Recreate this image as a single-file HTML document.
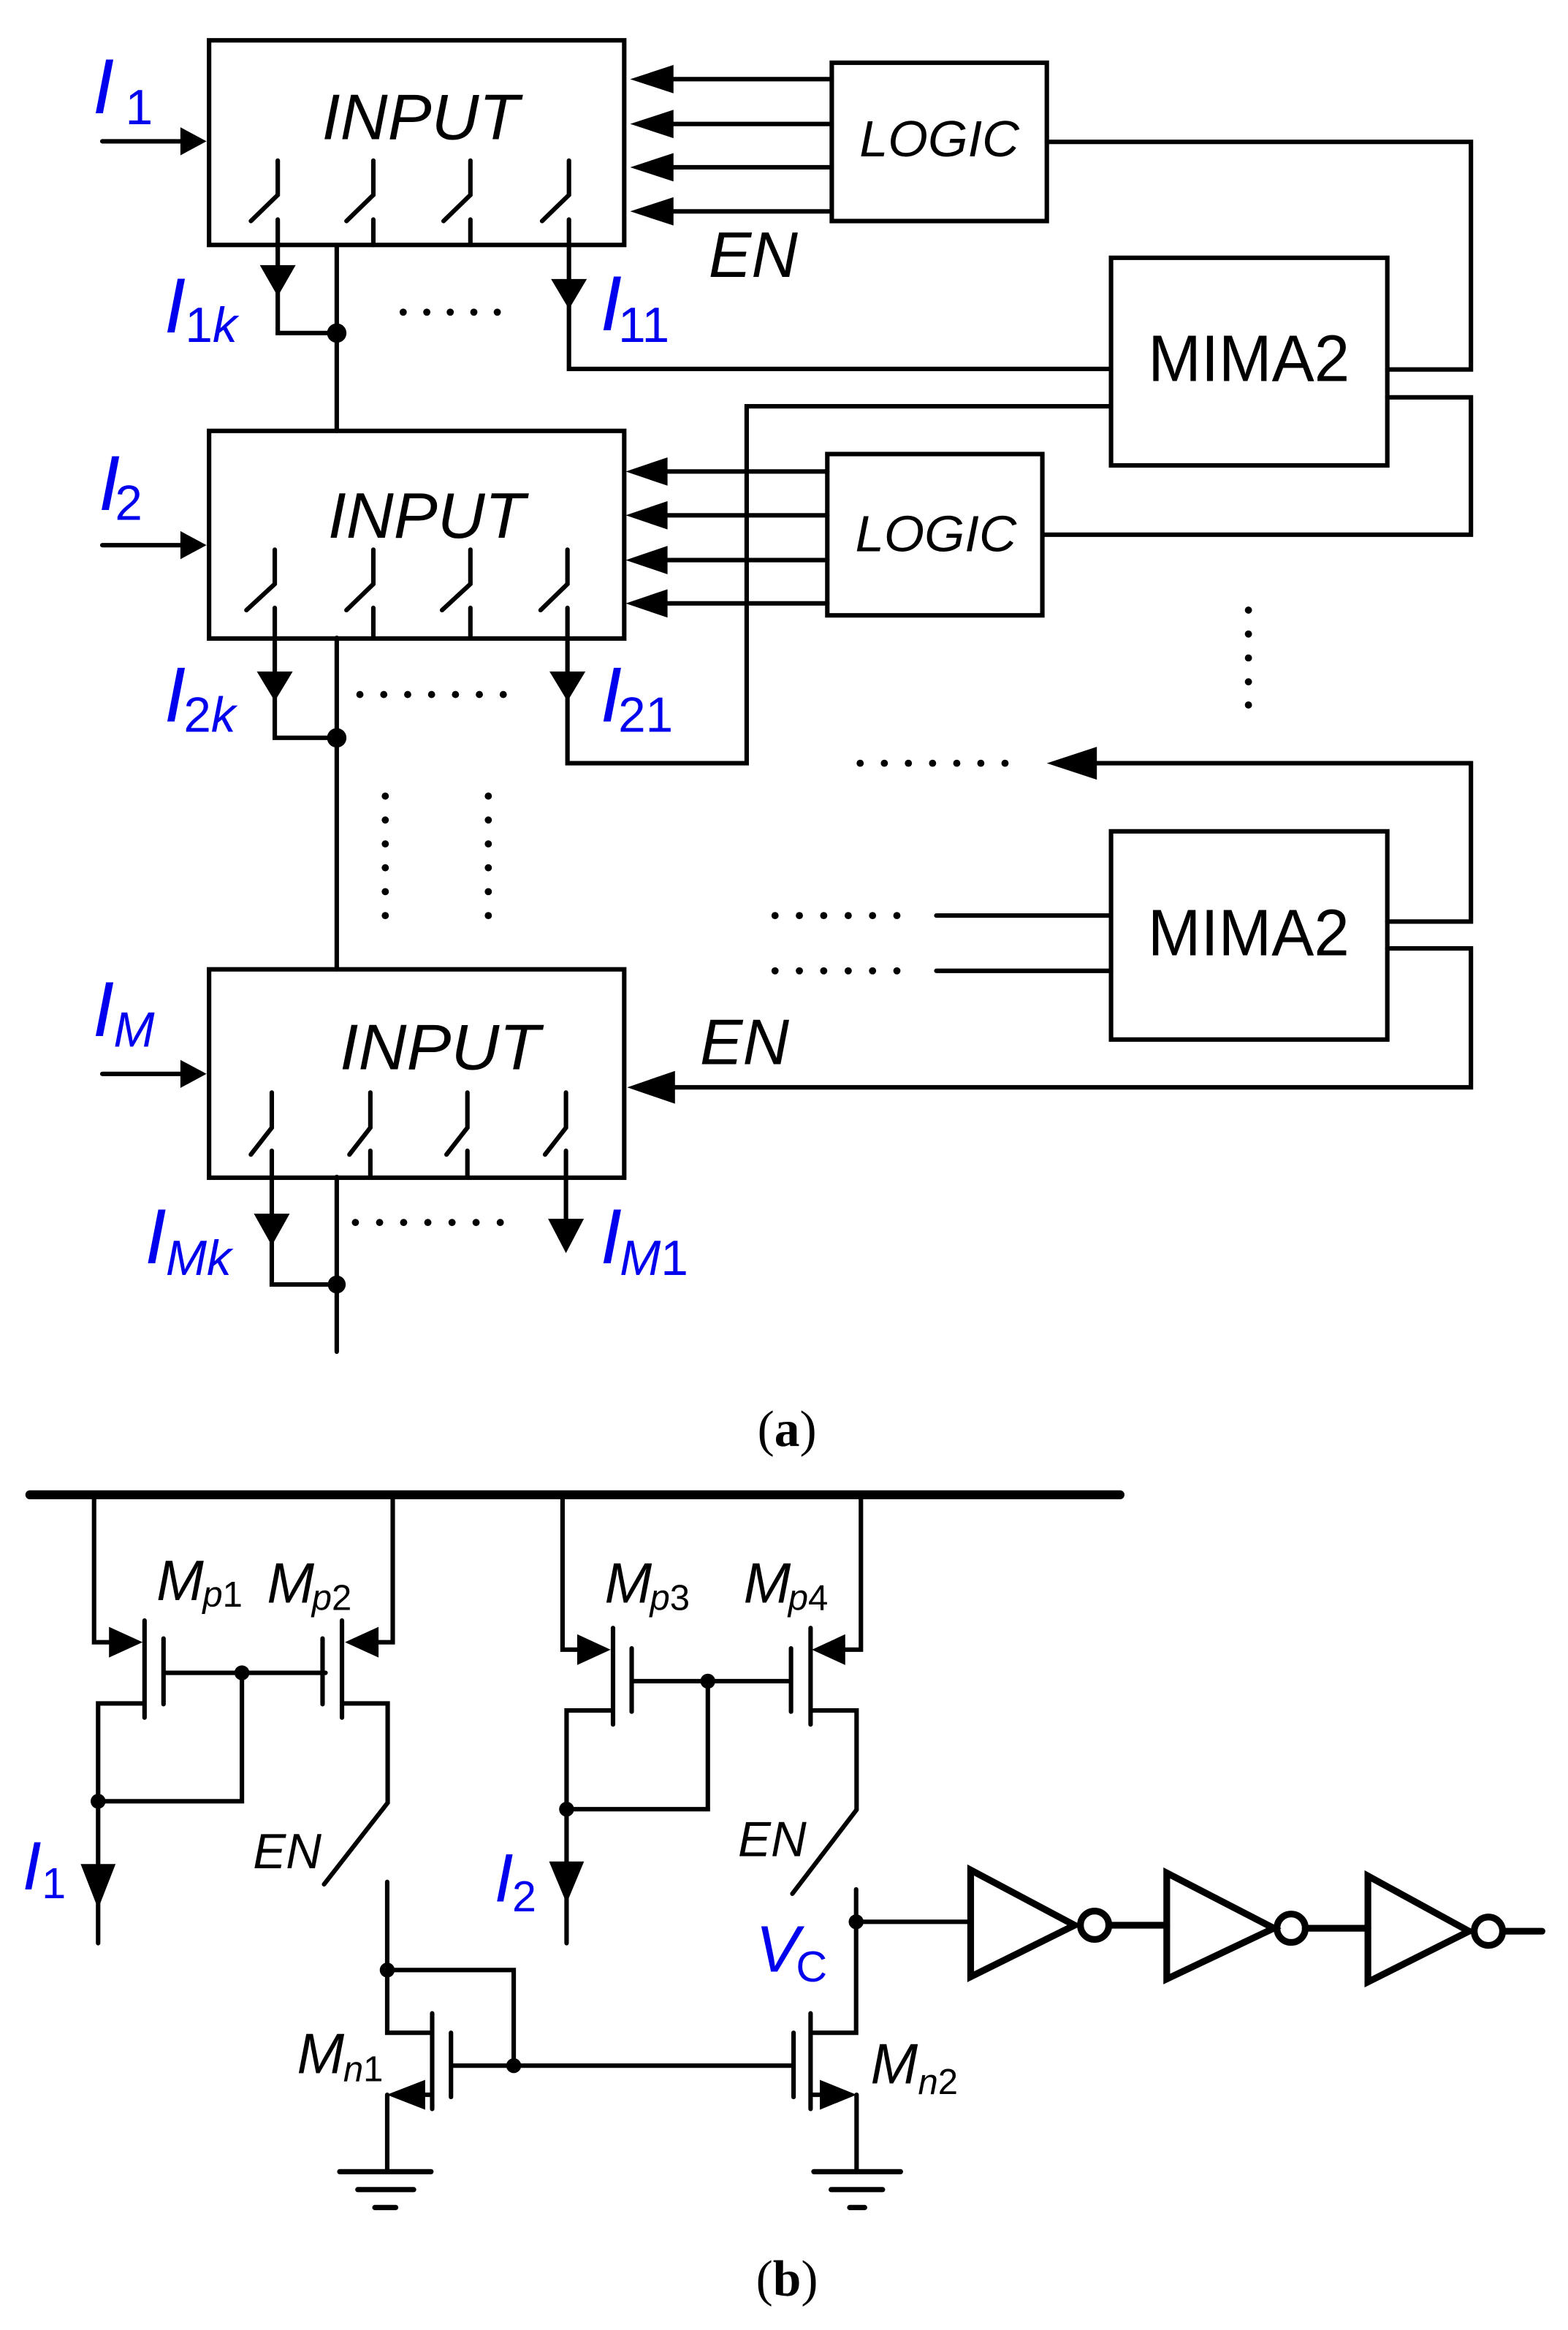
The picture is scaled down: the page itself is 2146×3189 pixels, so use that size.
<!DOCTYPE html>
<html><head><meta charset="utf-8"><style>html,body{margin:0;padding:0;background:#fff}svg{display:block}</style></head>
<body>
<svg width="2146" height="3189" viewBox="0 0 1050 1560" preserveAspectRatio="none" xmlns="http://www.w3.org/2000/svg">
<g fill="none" stroke="#000" stroke-width="3" stroke-linecap="round" stroke-linejoin="miter">
<rect x="140" y="27" width="278" height="137"/>
<rect x="140" y="288.5" width="278" height="139"/>
<rect x="140" y="649" width="278" height="139.5"/>
<path d="M186,107.5V130.5L168,148 M186,147V164 M250,107.5V130.5L232,148 M250,147V164 M315,107.5V130.5L297,148 M315,147V164 M381,107.5V130.5L363,148 M381,147V164"/>
<path d="M184,368V391L165,408.5 M184,407V427 M250,368V391L232,408.5 M250,407V427 M315,368V391L296,408.5 M315,407V427 M380,368V391L362,408.5 M380,407V427"/>
<path d="M182,731.5V755L168,773 M182,770.5V788 M248,731.5V755L234,773 M248,770.5V788 M313,731.5V755L299,773 M313,770.5V788 M379,731.5V755L365,773 M379,770.5V788"/>
<path d="M186,164V223H225.5 M225.5,164V288.5 M381,164V247H744"/>
<path d="M184,427V494H225.5 M225.5,427V649 M380,427V511H500V272H744"/>
<path d="M182,788V860H225.5 M225.5,788V905 M379,788V816"/>
<path d="M68.5,94.6H125 M68.5,365H125 M68.5,719H125"/>
<rect x="557" y="42" width="144" height="106"/>
<path d="M445,53H557 M445,83H557 M445,112H557 M445,141.5H557"/>
<rect x="554" y="304" width="144" height="108"/>
<path d="M442,315.7H554 M442,345H554 M442,375H554 M442,404H554"/>
<rect x="744" y="172.6" width="185" height="139"/>
<rect x="744" y="556.6" width="185" height="139.4"/>
<path d="M701,95H985V247.4H929 M929,266H985V358H698"/>
<path d="M727,511H985V617H929 M929,635H985V728H445"/>
<path d="M627,613H744 M627,650H744"/>
<path d="M20,1000.8H750" stroke-width="6"/>
<path d="M63,1000.8V1099.5H80 M96.8,1085V1150 M109.5,1097V1141 M109.5,1120H218 M96.8,1140.5H65.7V1260 M65.7,1206H162V1120"/>
<path d="M263,1000.8V1099.5H250 M229,1085V1150 M216,1097V1141 M229,1140.5H259.6V1207L217,1261.6"/>
<path d="M376.7,1000.8V1104.5H395 M410.5,1090V1154.6 M423,1103.6V1146 M423,1125.6H529.7 M410.5,1145.2H379.4V1260 M379.4,1211.3H474V1125.6"/>
<path d="M576.5,1000.8V1104.5H560 M542.8,1090V1154.6 M529.7,1103.6V1146 M542.8,1145.2H573.6V1211.7L530.6,1267.9"/>
<path d="M65.7,1270V1301 M379.4,1270V1301"/>
<path d="M259.3,1260V1361H289.4 M289.4,1348V1412 M302,1361V1404 M302,1383H531.4 M259.3,1319H344V1383 M284.7,1402.5H289.4 M259.3,1402.5V1454"/>
<path d="M227.5,1454H288.6 M239.6,1466H277 M251,1478H265" stroke-width="3.5"/>
<path d="M573.3,1265V1361H542.8 M542.8,1348V1412 M531.4,1361V1404 M549,1402.5H542.8 M573.6,1402.5V1454 M573.3,1286.7H650"/>
<path d="M545,1454H603 M556.6,1466H591 M569,1478H579" stroke-width="3.5"/>
<g stroke-width="4.5" stroke-linejoin="miter">
<path d="M650,1252V1323.5L719.6,1289Z"/>
<circle cx="733" cy="1289" r="9.5"/>
<path d="M742.5,1289H781.3"/>
<path d="M781.3,1254V1325L853,1291Z"/>
<circle cx="864.6" cy="1291" r="9.5"/>
<path d="M874,1291H916"/>
<path d="M916,1256V1327L983.7,1293Z"/>
<circle cx="996.7" cy="1293" r="9.5"/>
<path d="M1006.2,1293H1032.6"/>
</g>
</g>
<g fill="#000" stroke="none">
<polygon points="120.8,85.2 138.3,94.6 120.8,104"/>
<polygon points="120.8,355.6 138.3,365 120.8,374.4"/>
<polygon points="120.8,709.6 138.3,719 120.8,728.4"/>
<polygon points="174,177.5 198,177.5 186,198.4"/>
<polygon points="369,186.8 393,186.8 381,207"/>
<polygon points="172,449.6 196,449.6 184,469.5"/>
<polygon points="368,449.6 392,449.6 380,469.5"/>
<polygon points="170,812.6 194,812.6 182,834"/>
<polygon points="367,816 391,816 379,839"/>
<polygon points="422,53 451,43.5 451,62.5"/>
<polygon points="422,83 451,73.5 451,92.5"/>
<polygon points="422,112 451,102.5 451,121.5"/>
<polygon points="422,141.5 451,132 451,151"/>
<polygon points="419,315.7 447,306.2 447,325.2"/>
<polygon points="419,345 447,335.5 447,354.5"/>
<polygon points="419,375 447,365.5 447,384.5"/>
<polygon points="419,404 447,394.5 447,413.5"/>
<polygon points="420,728 452,717 452,739"/>
<polygon points="701,511 734.5,500 734.5,522"/>
<circle cx="225.5" cy="223" r="6.5"/>
<circle cx="225.5" cy="494" r="6.5"/>
<circle cx="225.5" cy="860" r="6"/>
<g>
<circle cx="270" cy="209" r="2.4"/><circle cx="285.8" cy="209" r="2.4"/><circle cx="301.5" cy="209" r="2.4"/><circle cx="317.3" cy="209" r="2.4"/><circle cx="333" cy="209" r="2.4"/>
<circle cx="241" cy="465" r="2.4"/><circle cx="257" cy="465" r="2.4"/><circle cx="273" cy="465" r="2.4"/><circle cx="289" cy="465" r="2.4"/><circle cx="305" cy="465" r="2.4"/><circle cx="321" cy="465" r="2.4"/><circle cx="337" cy="465" r="2.4"/>
<circle cx="238" cy="818.5" r="2.4"/><circle cx="254.2" cy="818.5" r="2.4"/><circle cx="270.3" cy="818.5" r="2.4"/><circle cx="286.5" cy="818.5" r="2.4"/><circle cx="302.7" cy="818.5" r="2.4"/><circle cx="318.8" cy="818.5" r="2.4"/><circle cx="335" cy="818.5" r="2.4"/>
<circle cx="576" cy="511" r="2.4"/><circle cx="592.2" cy="511" r="2.4"/><circle cx="608.3" cy="511" r="2.4"/><circle cx="624.5" cy="511" r="2.4"/><circle cx="640.7" cy="511" r="2.4"/><circle cx="656.8" cy="511" r="2.4"/><circle cx="673" cy="511" r="2.4"/>
<circle cx="519" cy="613" r="2.4"/><circle cx="535.3" cy="613" r="2.4"/><circle cx="551.6" cy="613" r="2.4"/><circle cx="568" cy="613" r="2.4"/><circle cx="584.3" cy="613" r="2.4"/><circle cx="600.6" cy="613" r="2.4"/>
<circle cx="519" cy="650" r="2.4"/><circle cx="535.3" cy="650" r="2.4"/><circle cx="551.6" cy="650" r="2.4"/><circle cx="568" cy="650" r="2.4"/><circle cx="584.3" cy="650" r="2.4"/><circle cx="600.6" cy="650" r="2.4"/>
<circle cx="258" cy="533" r="2.4"/><circle cx="258" cy="549" r="2.4"/><circle cx="258" cy="565" r="2.4"/><circle cx="258" cy="581" r="2.4"/><circle cx="258" cy="597" r="2.4"/><circle cx="258" cy="613" r="2.4"/>
<circle cx="327" cy="533" r="2.4"/><circle cx="327" cy="549" r="2.4"/><circle cx="327" cy="565" r="2.4"/><circle cx="327" cy="581" r="2.4"/><circle cx="327" cy="597" r="2.4"/><circle cx="327" cy="613" r="2.4"/>
<circle cx="836" cy="408.5" r="2.4"/><circle cx="836" cy="424.5" r="2.4"/><circle cx="836" cy="440.5" r="2.4"/><circle cx="836" cy="456.5" r="2.4"/><circle cx="836" cy="472" r="2.4"/>
</g>
<polygon points="95.5,1099.5 73,1089.2 73,1109.8"/>
<polygon points="231,1099.5 253.5,1089.2 253.5,1109.8"/>
<polygon points="408.9,1104.5 386.5,1094.2 386.5,1114.8"/>
<polygon points="543.7,1104.5 566,1094.2 566,1114.8"/>
<polygon points="54,1248 77.4,1248 65.7,1278"/>
<polygon points="367.7,1246.3 391.1,1246.3 379.4,1274.4"/>
<polygon points="259,1402.5 284.7,1392.5 284.7,1412.5"/>
<polygon points="573.6,1402.5 549,1392.5 549,1412.5"/>
<circle cx="162" cy="1120" r="5"/>
<circle cx="65.7" cy="1206" r="5"/>
<circle cx="474" cy="1125.6" r="5"/>
<circle cx="379.4" cy="1211.3" r="5"/>
<circle cx="259.3" cy="1319" r="5"/>
<circle cx="344" cy="1383" r="5"/>
<circle cx="573.3" cy="1286.7" r="5"/>
</g>
<g font-family="'Liberation Sans', sans-serif" fill="#000">
<text x="215.6" y="93.3" font-size="43" font-style="italic" textLength="132" lengthAdjust="spacingAndGlyphs">INPUT</text>
<text x="219.6" y="360" font-size="43" font-style="italic" textLength="132" lengthAdjust="spacingAndGlyphs">INPUT</text>
<text x="227.6" y="716" font-size="43" font-style="italic" textLength="134" lengthAdjust="spacingAndGlyphs">INPUT</text>
<text x="575.5" y="104.7" font-size="34" font-style="italic" textLength="107" lengthAdjust="spacingAndGlyphs">LOGIC</text>
<text x="572.7" y="369" font-size="34" font-style="italic" textLength="108" lengthAdjust="spacingAndGlyphs">LOGIC</text>
<text x="768.8" y="255" font-size="44" textLength="135" lengthAdjust="spacingAndGlyphs">MIMA2</text>
<text x="768.6" y="639.6" font-size="44" textLength="135" lengthAdjust="spacingAndGlyphs">MIMA2</text>
<text x="474.5" y="185.3" font-size="43" font-style="italic">EN</text>
<text x="468.7" y="712.4" font-size="43" font-style="italic">EN</text>
<text x="169.4" y="1250.9" font-size="33" font-style="italic">EN</text>
<text x="494.2" y="1242.7" font-size="33" font-style="italic">EN</text>
<g>
<text x="104.8" y="1071.4" font-size="38" font-style="italic">M</text><text x="135.7" y="1075.6" font-size="24"><tspan font-style="italic">p</tspan>1</text>
<text x="178.8" y="1073" font-size="38" font-style="italic">M</text><text x="208.8" y="1077.8" font-size="24"><tspan font-style="italic">p</tspan>2</text>
<text x="404.9" y="1073" font-size="38" font-style="italic">M</text><text x="435.2" y="1078" font-size="24"><tspan font-style="italic">p</tspan>3</text>
<text x="497.9" y="1073" font-size="38" font-style="italic">M</text><text x="527.8" y="1078" font-size="24"><tspan font-style="italic">p</tspan>4</text>
<text x="198.9" y="1388" font-size="38" font-style="italic">M</text><text x="229.9" y="1393.5" font-size="24"><tspan font-style="italic">n</tspan>1</text>
<text x="583" y="1395" font-size="38" font-style="italic">M</text><text x="614.8" y="1402" font-size="24"><tspan font-style="italic">n</tspan>2</text>
</g>
<g fill="#0000ee">
<text x="62" y="75.8" font-size="52" font-style="italic">I</text><text x="84" y="83.2" font-size="33">1</text>
<text x="110" y="222.6" font-size="52" font-style="italic">I</text><text x="124" y="229" font-size="33">1<tspan font-style="italic">k</tspan></text>
<text x="402" y="221" font-size="52" font-style="italic">I</text><text x="414" y="229" font-size="33">11</text>
<text x="66" y="341.5" font-size="52" font-style="italic">I</text><text x="77" y="348" font-size="33">2</text>
<text x="110" y="483" font-size="52" font-style="italic">I</text><text x="123" y="490" font-size="33">2<tspan font-style="italic">k</tspan></text>
<text x="402" y="483" font-size="52" font-style="italic">I</text><text x="414" y="490" font-size="33">21</text>
<text x="62" y="693.6" font-size="52" font-style="italic">I</text><text x="76" y="700.8" font-size="33" font-style="italic">M</text>
<text x="97" y="845.8" font-size="52" font-style="italic">I</text><text x="111" y="853.7" font-size="33" font-style="italic">Mk</text>
<text x="402" y="845.8" font-size="52" font-style="italic">I</text><text x="415" y="853.7" font-size="33"><tspan font-style="italic">M</tspan>1</text>
<text x="15" y="1265" font-size="46" font-style="italic">I</text><text x="28" y="1271" font-size="29">1</text>
<text x="331" y="1273" font-size="46" font-style="italic">I</text><text x="343" y="1279.6" font-size="29">2</text>
<text x="506" y="1320" font-size="44" font-style="italic">V</text><text x="533" y="1326.7" font-size="29">C</text>
</g>
</g>
<g font-family="'Liberation Serif', serif" font-size="34" fill="#000" text-anchor="middle">
<text x="527" y="968">(<tspan font-weight="bold">a</tspan>)</text>
<text x="527" y="1537">(<tspan font-weight="bold">b</tspan>)</text>
</g>
</svg>
</body></html>
